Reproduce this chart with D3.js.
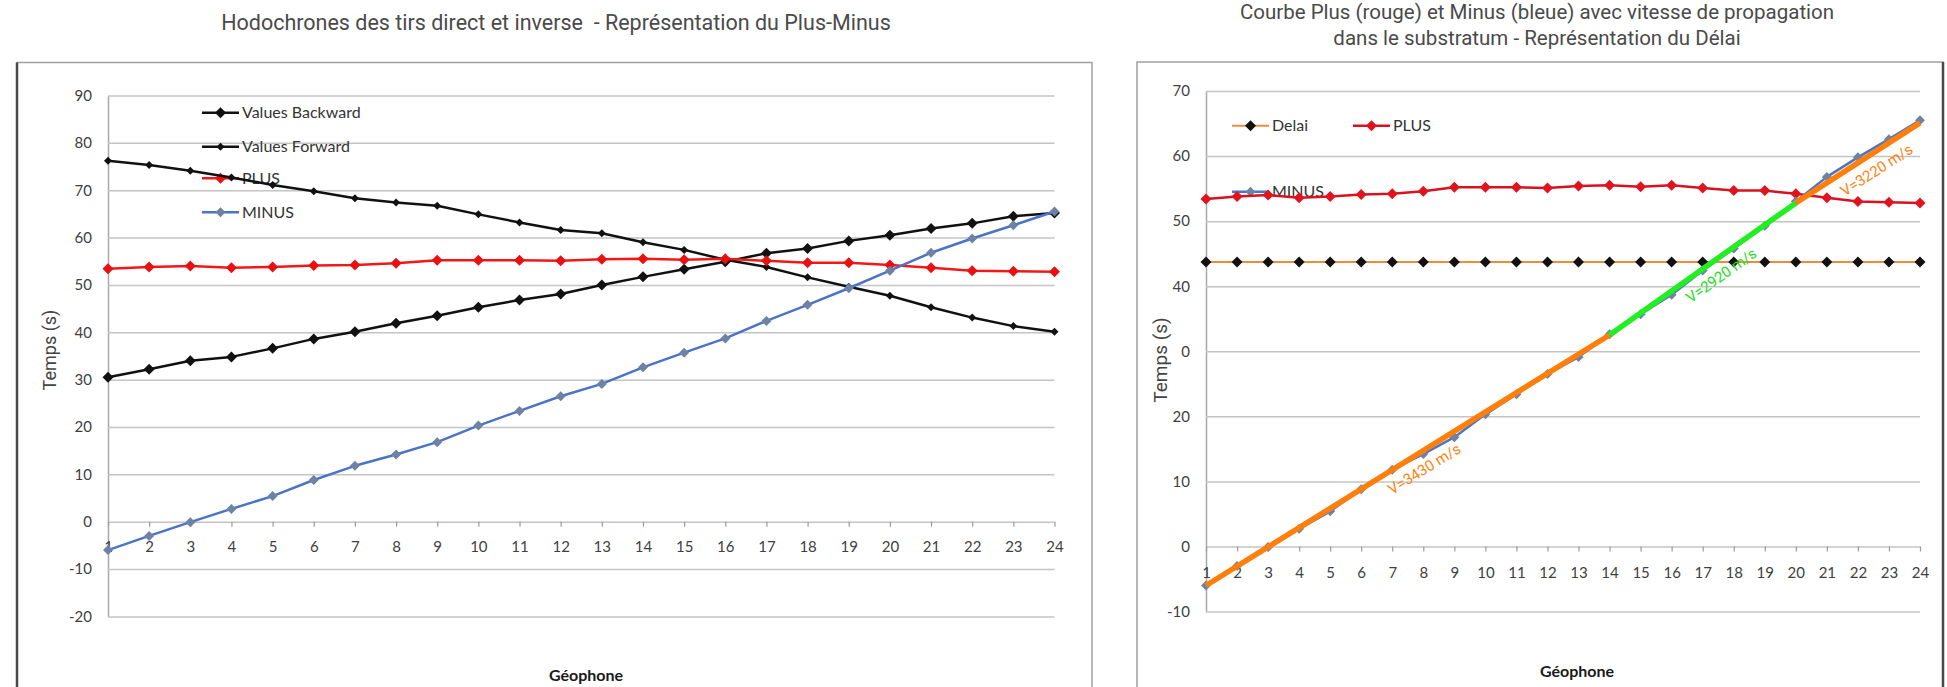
<!DOCTYPE html>
<html>
<head>
<meta charset="utf-8">
<script src="https://cdn.jsdelivr.net/npm/d3@7"></script>
<style>
	body { margin: 0; background: #fff; }
	svg { display: block; }
</style>
</head>
<body>
<div id="chart"></div>
<script>
// categories
const geophones = [1, 2, 3, 4, 5, 6, 7, 8, 9, 10, 11, 12, 13, 14, 15, 16, 17, 18, 19, 20, 21, 22, 23, 24];

// series (s)
const valuesBackward = [30.5, 32.2, 34.0, 34.8, 36.6, 38.6, 40.1, 41.9, 43.5, 45.3, 46.8, 48.1, 50.0, 51.7, 53.3, 54.9, 56.7, 57.7, 59.3, 60.5, 61.9, 63.0, 64.5, 65.2];
const valuesForward = [76.2, 75.3, 74.1, 72.7, 71.1, 69.8, 68.3, 67.4, 66.7, 64.9, 63.2, 61.6, 60.9, 59.0, 57.4, 55.3, 53.8, 51.6, 49.6, 47.7, 45.3, 43.1, 41.3, 40.1];
const plus = [53.4, 53.8, 54.0, 53.6, 53.8, 54.1, 54.2, 54.6, 55.2, 55.2, 55.2, 55.1, 55.4, 55.5, 55.3, 55.5, 55.1, 54.7, 54.7, 54.2, 53.6, 53.0, 52.9, 52.8];
const minus = [-6.0, -3.0, -0.1, 2.7, 5.4, 8.8, 11.8, 14.2, 16.8, 20.3, 23.4, 26.5, 29.1, 32.6, 35.7, 38.7, 42.4, 45.8, 49.3, 53.0, 56.8, 59.8, 62.6, 65.5];
const delai = [43.7, 43.7, 43.7, 43.7, 43.7, 43.7, 43.7, 43.7, 43.7, 43.7, 43.7, 43.7, 43.7, 43.7, 43.7, 43.7, 43.7, 43.7, 43.7, 43.7, 43.7, 43.7, 43.7, 43.7];

// velocity fits on the minus curve (right chart)
const fitFrom = [1, 14, 20];
const fitTo = [14, 20, 24];
const fitStartValues = [-6.0, 32.5, 52.8];
const fitEndValues = [32.5, 52.8, 65.1];
const fitLabels = ["V=3430 m/s", "V=2920 m/s", "V=3220 m/s"];

// tick labels
const leftYTicks = [-20, -10, 0, 10, 20, 30, 40, 50, 60, 70, 80, 90];
const leftYTickLabels = ["-20", "-10", "0", "10", "20", "30", "40", "50", "60", "70", "80", "90"];
const rightYTicks = [-10, 0, 10, 20, 30, 40, 50, 60, 70];
const rightYTickLabels = ["-10", "0", "10", "20", "0", "40", "50", "60", "70"];

const svg = d3.select("#chart").append("svg")
	.attr("width", 1947)
	.attr("height", 687);

const diamond = r => `M0,${-r}L${r},0L0,${r}L${-r},0Z`;

function drawPanel(p) {
	const g = svg.append("g");
	const x = d3.scalePoint().domain(geophones).range(p.xRange);
	const y = d3.scaleLinear().domain(p.yDomain).range(p.yRange);

	// frame
	g.append("rect")
		.attr("x", p.frame[0]).attr("y", p.frame[1])
		.attr("width", p.frame[2]).attr("height", p.frame[3])
		.attr("fill", "none").attr("stroke", "#a0a0a0").attr("stroke-width", 1.5);
	g.append("line")
		.attr("x1", p.darkEdge).attr("x2", p.darkEdge)
		.attr("y1", p.frame[1]).attr("y2", p.frame[1] + p.frame[3])
		.attr("stroke", "#4a4a4a").attr("stroke-width", 2.5);

	// gridlines + y labels
	const yAxis = g.append("g")
		.attr("transform", "translate(" + p.xRange[0] + ",0)")
		.call(d3.axisLeft(y)
			.tickValues(p.yTicks)
			.tickFormat((d, i) => p.yLabels[i])
			.tickSizeInner(-(p.xRange[1] - p.xRange[0]))
			.tickSizeOuter(0)
			.tickPadding(16));
	yAxis.select(".domain").attr("stroke", "#a8a8a8").attr("stroke-width", 1.5);
	yAxis.selectAll(".tick line").attr("stroke", "#c4c4c4").attr("stroke-width", 1.5);
	yAxis.selectAll(".tick text")
		.attr("fill", "#404040")
		.style("font-family", "Lato, sans-serif").style("font-size", "15px");

	// x axis on the zero line
	const xAxis = g.append("g")
		.attr("transform", "translate(0," + y(0) + ")")
		.call(d3.axisBottom(x).tickSize(5).tickPadding(p.xPad));
	xAxis.select(".domain").remove();
	xAxis.selectAll(".tick line").attr("stroke", "#9a9a9a").attr("stroke-width", 1.2);
	xAxis.selectAll(".tick text")
		.attr("fill", "#404040")
		.style("font-family", "Lato, sans-serif").style("font-size", "15px");

	// axis titles
	g.append("text")
		.attr("transform", "translate(" + p.yTitle[0] + "," + p.yTitle[1] + ") rotate(-90)")
		.attr("text-anchor", "middle").attr("dy", "0.35em")
		.style("font-family", "Roboto, sans-serif").style("font-size", p.yTitleSize)
		.attr("fill", "#444")
		.text("Temps (s)");
	g.append("text")
		.attr("x", p.xTitle[0]).attr("y", p.xTitle[1])
		.attr("text-anchor", "middle")
		.style("font-family", "Lato, sans-serif").style("font-size", "16px").style("font-weight", "bold")
		.attr("fill", "#1a1a1a")
		.text("Géophone");

	// legend (drawn under the series, as in the original)
	p.legend.forEach(l => {
		const s = p.series.find(s => s.name === l.name);
		const lg = g.append("g").attr("transform", "translate(" + l.x + "," + l.y + ")");
		lg.append("line").attr("x1", 0).attr("x2", 37)
			.attr("stroke", s.color).attr("stroke-width", s.width);
		lg.append("path").attr("transform", "translate(18.5,0)")
			.attr("d", diamond(s.r)).attr("fill", s.marker);
		lg.append("text").attr("x", 40).attr("dy", "0.35em")
			.style("font-family", "Lato, sans-serif").style("font-size", "16px")
			.attr("fill", "#333")
			.text(s.name);
	});

	// series
	const line = d3.line().x(d => x(d.g)).y(d => y(d.v));
	p.series.forEach(s => {
		const pts = geophones.map((gp, i) => ({ g: gp, v: s.values[i] }));
		g.append("path")
			.datum(pts)
			.attr("fill", "none")
			.attr("stroke", s.color)
			.attr("stroke-width", s.width)
			.attr("stroke-linejoin", "round")
			.attr("d", line);
		g.selectAll(null)
			.data(pts)
			.enter().append("path")
			.attr("transform", d => "translate(" + x(d.g) + "," + y(d.v) + ")")
			.attr("d", diamond(s.r))
			.attr("fill", s.marker);
	});

	return { g, x, y };
}

function title(x, y, size, txt) {
	svg.append("text")
		.attr("x", x).attr("y", y)
		.attr("text-anchor", "middle")
		.style("font-family", "Roboto, sans-serif").style("font-size", size)
		.style("white-space", "pre")
		.attr("fill", "#4a4a4a")
		.text(txt);
}

// left chart
title(556, 30, "21.5px", "Hodochrones des tirs direct et inverse  - Représentation du Plus-Minus");

drawPanel({
	frame: [17, 62.5, 1075, 700],
	darkEdge: 17,
	xRange: [108, 1054.5],
	yRange: [616.4, 95.5],
	yDomain: [-20, 90],
	yTicks: leftYTicks,
	yLabels: leftYTickLabels,
	xPad: 14.5,
	yTitle: [50, 350],
	yTitleSize: "18px",
	xTitle: [586, 681],
	legend: [
		{ name: "Values Backward", x: 202, y: 112.7 },
		{ name: "Values Forward", x: 202, y: 146.7 },
		{ name: "PLUS", x: 202, y: 178.3 },
		{ name: "MINUS", x: 202, y: 212.3 }
	],
	series: [
		{ name: "Values Backward", values: valuesBackward, color: "#111", width: 2.5, marker: "#111", r: 5.5 },
		{ name: "Values Forward", values: valuesForward, color: "#111", width: 2.5, marker: "#111", r: 4 },
		{ name: "PLUS", values: plus, color: "#f21818", width: 2.5, marker: "#e81010", r: 5.5 },
		{ name: "MINUS", values: minus, color: "#4a74c6", width: 2.5, marker: "#6e83a4", r: 5 }
	]
});

// right chart
title(1537, 19, "20.5px", "Courbe Plus (rouge) et Minus (bleue) avec vitesse de propagation");
title(1537, 45, "20.5px", "dans le substratum - Représentation du Délai");

const right = drawPanel({
	frame: [1137, 62, 806, 700],
	darkEdge: 1943,
	xRange: [1206, 1920],
	yRange: [611.5, 91],
	yDomain: [-10, 70],
	yTicks: rightYTicks,
	yLabels: rightYTickLabels,
	xPad: 16,
	yTitle: [1160, 360],
	yTitleSize: "19px",
	xTitle: [1577, 677],
	legend: [
		{ name: "Delai", x: 1232, y: 125.7 },
		{ name: "PLUS", x: 1353, y: 125.7 },
		{ name: "MINUS", x: 1232, y: 191.7 }
	],
	series: [
		{ name: "Delai", values: delai, color: "#ef8c3c", width: 2, marker: "#111", r: 5.5 },
		{ name: "PLUS", values: plus, color: "#d8121e", width: 2.5, marker: "#e0141e", r: 5.5 },
		{ name: "MINUS", values: minus, color: "#4a74c6", width: 2.5, marker: "#6e83a4", r: 5 }
	]
});

// fitted velocity segments
const fitColors = ["#ff7f0a", "#22ee22", "#ff7f0a"];
const labelColors = ["#ff8210", "#22dd22", "#ff8210"];
const labelAt = [0.52, 0.55, 0.58];
fitFrom.forEach((f, i) => {
	const x0 = right.x(f), y0 = right.y(fitStartValues[i]);
	const x1 = right.x(fitTo[i]), y1 = right.y(fitEndValues[i]);
	right.g.append("line")
		.attr("x1", x0).attr("y1", y0).attr("x2", x1).attr("y2", y1)
		.attr("stroke", fitColors[i]).attr("stroke-width", 5.5);
	const angle = Math.atan2(y1 - y0, x1 - x0) * 180 / Math.PI;
	const mx = x0 + (x1 - x0) * labelAt[i], my = y0 + (y1 - y0) * labelAt[i];
	right.g.append("text")
		.attr("transform", "translate(" + mx + "," + my + ") rotate(" + angle + ")")
		.attr("y", 16).attr("dy", "0.35em")
		.attr("text-anchor", "middle")
		.style("font-family", "Roboto, sans-serif").style("font-size", "15px")
		.attr("fill", labelColors[i])
		.text(fitLabels[i]);
});
</script>
</body>
</html>
